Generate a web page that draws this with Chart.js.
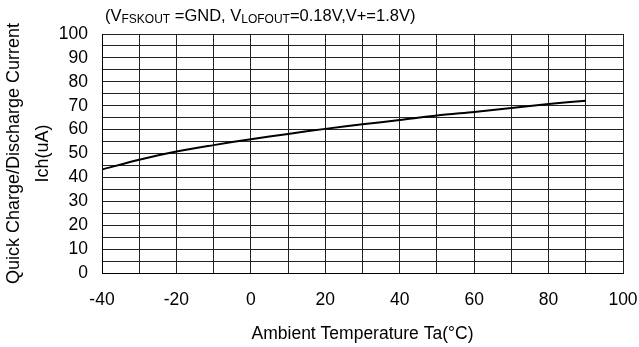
<!DOCTYPE html>
<html>
<head>
<meta charset="utf-8">
<script src="https://cdn.jsdelivr.net/npm/chart.js@4"></script>
<style>
  html, body { margin: 0; padding: 0; background: #fff; }
  #wrap { position: relative; width: 639px; height: 347px; }
  #cond {
    position: absolute; left: 105px; top: 6px;
    font: 16.5px "Liberation Sans", Arial, sans-serif; color: #000; white-space: nowrap;
  }
  #cond sub { font-size: 12px; vertical-align: -2px; }
</style>
</head>
<body>
<div id="wrap">
  <canvas id="chart" width="639" height="347"></canvas>
  <div id="cond">(V<sub>FSKOUT</sub> =GND, V<sub>LOFOUT</sub>=0.18V,V+=1.8V)</div>
</div>
<script>
// data
const temps   = [-40, -30, -20, -10, 0, 10, 20, 30, 40, 50, 60, 70, 80, 90];
const current = [43.3, 47.4, 50.8, 53.5, 56.0, 58.2, 60.3, 62.2, 64.0, 65.9, 67.4, 69.0, 70.7, 72.1];

const xTickLabels = ['-40', '-20', '0', '20', '40', '60', '80', '100'];
const yTickLabels = ['0', '10', '20', '30', '40', '50', '60', '70', '80', '90', '100'];

const font = { family: '"Liberation Sans", Arial, sans-serif', size: 17.5 };

const ctx = document.getElementById('chart').getContext('2d');
new Chart(ctx, {
  type: 'line',
  data: {
    datasets: [{
      data: temps.map((t, i) => ({ x: t, y: current[i] })),
      borderColor: '#000',
      borderWidth: 2,
      pointRadius: 0,
      tension: 0.3,
      fill: false
    }]
  },
  options: {
    responsive: false,
    animation: false,
    layout: { padding: { top: 34, right: 0, left: 0, bottom: 0 } },
    plugins: { legend: { display: false }, tooltip: { enabled: false } },
    scales: {
      x: {
        type: 'linear',
        min: -40, max: 100,
        afterFit: s => { s.height = 74; s.paddingRight = 16; s.paddingLeft = 0; },
        border: { color: '#000', width: 1 },
        grid: { color: '#222', lineWidth: 1, drawTicks: false },
        ticks: {
          stepSize: 10, padding: 17, color: '#000', font,
          maxRotation: 0, autoSkip: false,
          callback: v => xTickLabels.includes(String(v)) ? String(v) : ''
        },
        title: {
          display: true, text: 'Ambient Temperature Ta(°C)', color: '#000',
          font, padding: { top: 0, bottom: 2 }
        }
      },
      y: {
        min: 0, max: 100,
        afterFit: s => { s.width = 102; },
        border: { color: '#000', width: 1 },
        grid: { color: '#222', lineWidth: 1, drawTicks: false },
        ticks: {
          stepSize: 5, padding: 14, color: '#000', font, autoSkip: false,
          callback: v => yTickLabels.includes(String(v)) ? String(v) : ''
        },
        title: {
          display: true, text: ['Quick Charge/Discharge Current', 'Ich(uA)'], color: '#000',
          font: { ...font, size: 18, lineHeight: 1.6 }, padding: { top: 0, bottom: 0 }
        }
      }
    }
  }
});
</script>
</body>
</html>
